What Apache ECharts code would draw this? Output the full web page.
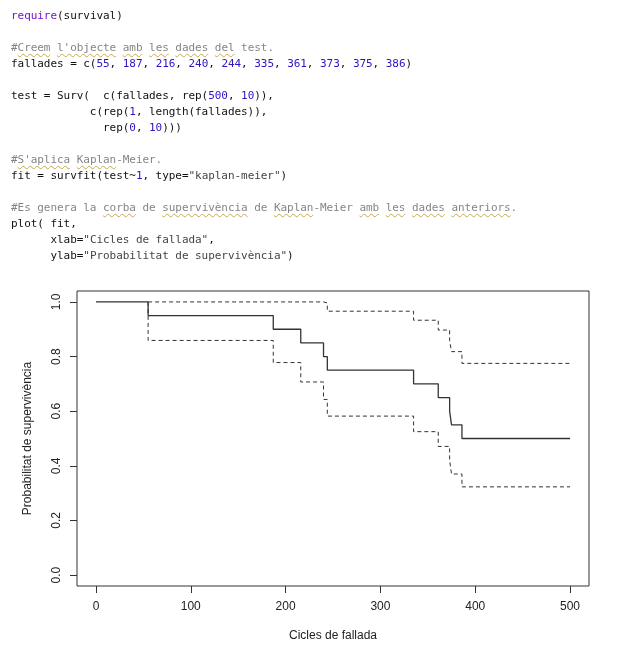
<!DOCTYPE html>
<html>
<head>
<meta charset="utf-8">
<script src="https://cdn.jsdelivr.net/npm/echarts@6/dist/echarts.min.js"></script>
<style>
html,body{margin:0;padding:0;background:#fff;}
#wrap{position:relative;width:637px;height:653px;overflow:hidden;}
#chart{position:absolute;left:0;top:0;width:637px;height:653px;}
pre{position:absolute;left:11px;top:8px;margin:0;z-index:2;font-family:"DejaVu Sans Mono",monospace;font-size:11px;letter-spacing:-0.05px;line-height:16px;color:#111;}
.k{color:#7a10d0;}
.n{color:#2a14c4;}
.c{color:#858585;}
.s{color:#3e463e;}
.u{text-decoration:underline wavy #c8aa50;text-decoration-thickness:1px;text-underline-offset:2px;}
</style>
</head>
<body>
<div id="wrap">
<div id="chart"></div>
<pre><span class="k">require</span>(survival)

<span class="c">#<span class="u">Creem</span> <span class="u">l'objecte</span> <span class="u">amb</span> <span class="u">les</span> <span class="u">dades</span> <span class="u">del</span> test.</span>
fallades = c(<span class="n">55</span>, <span class="n">187</span>, <span class="n">216</span>, <span class="n">240</span>, <span class="n">244</span>, <span class="n">335</span>, <span class="n">361</span>, <span class="n">373</span>, <span class="n">375</span>, <span class="n">386</span>)

test = Surv(  c(fallades, rep(<span class="n">500</span>, <span class="n">10</span>)),
            c(rep(<span class="n">1</span>, length(fallades)),
              rep(<span class="n">0</span>, <span class="n">10</span>)))

<span class="c">#<span class="u">S'aplica</span> <span class="u">Kaplan</span>-Meier.</span>
fit = survfit(test~<span class="n">1</span>, type=<span class="s">"kaplan-meier"</span>)

<span class="c">#Es genera la <span class="u">corba</span> de <span class="u">supervivència</span> de <span class="u">Kaplan</span>-Meier <span class="u">amb</span> <span class="u">les</span> <span class="u">dades</span> <span class="u">anteriors</span>.</span>
plot( fit,
      xlab=<span class="s">"Cicles de fallada"</span>,
      ylab=<span class="s">"Probabilitat de supervivència"</span>)</pre>
</div>
<script>
// Kaplan-Meier estimate
const times = [0, 55, 187, 216, 240, 244, 335, 361, 373, 375, 386, 500];
const survival = [1, 0.95, 0.90, 0.85, 0.80, 0.75, 0.70, 0.65, 0.60, 0.55, 0.50, 0.50];
const upperCI = [1, 1, 1, 1, 0.996, 0.966, 0.933, 0.897, 0.858, 0.818, 0.775, 0.775];
const lowerCI = [1, 0.859, 0.778, 0.707, 0.643, 0.582, 0.525, 0.471, 0.420, 0.370, 0.323, 0.323];
const xTicks = [0, 100, 200, 300, 400, 500];
const yTicks = [0, 0.2, 0.4, 0.6, 0.8, 1.0];
const xTitle = 'Cicles de fallada';
const yTitle = 'Probabilitat de supervivència';

const pts = (ys) => times.map((t, i) => [t, ys[i]]);
// confidence bands start at the first event time (they coincide with the estimate before it)
const ciPts = (ys) => [[times[1], ys[0]]].concat(times.slice(1).map((t, i) => [t, ys[i + 1]]));
const FONT = 'Liberation Sans';
const chart = echarts.init(document.getElementById('chart'), null, {renderer: 'canvas'});
chart.setOption({
  backgroundColor: '#fff',
  animation: false,
  grid: {left: 77, top: 291, right: 48, bottom: 67, show: true, borderColor: '#333', borderWidth: 1, backgroundColor: 'transparent'},
  xAxis: {
    type: 'value', min: -20, max: 520,
    name: xTitle, nameLocation: 'middle', nameGap: 44,
    nameTextStyle: {fontFamily: FONT, fontSize: 12, color: '#222'},
    axisLine: {show: false, onZero: false},
    splitLine: {show: false},
    axisTick: {show: true, inside: false, length: 7, lineStyle: {color: '#333'}, customValues: xTicks},
    axisLabel: {fontFamily: FONT, fontSize: 12, color: '#222', margin: 15, customValues: xTicks, formatter: v => String(v)}
  },
  yAxis: {
    type: 'value', min: -0.04, max: 1.04,
    name: yTitle, nameLocation: 'middle', nameGap: 43, nameRotate: 90,
    nameTextStyle: {fontFamily: FONT, fontSize: 12, color: '#222'},
    axisLine: {show: false, onZero: false},
    splitLine: {show: false},
    axisTick: {show: true, inside: false, length: 7, lineStyle: {color: '#333'}, customValues: yTicks},
    axisLabel: {fontFamily: FONT, fontSize: 12, color: '#222', margin: 14, rotate: 90, customValues: yTicks, formatter: v => v.toFixed(1)}
  },
  series: [
    {type: 'line', step: 'end', data: ciPts(upperCI), symbol: 'none', lineStyle: {color: '#333', width: 1, type: [4, 3]}, z: 2},
    {type: 'line', step: 'end', data: ciPts(lowerCI), symbol: 'none', lineStyle: {color: '#333', width: 1, type: [4, 3]}, z: 2},
    {type: 'line', step: 'end', data: pts(survival), symbol: 'none', lineStyle: {color: '#333', width: 1.3}, z: 3}
  ]
});
</script>
</body>
</html>
